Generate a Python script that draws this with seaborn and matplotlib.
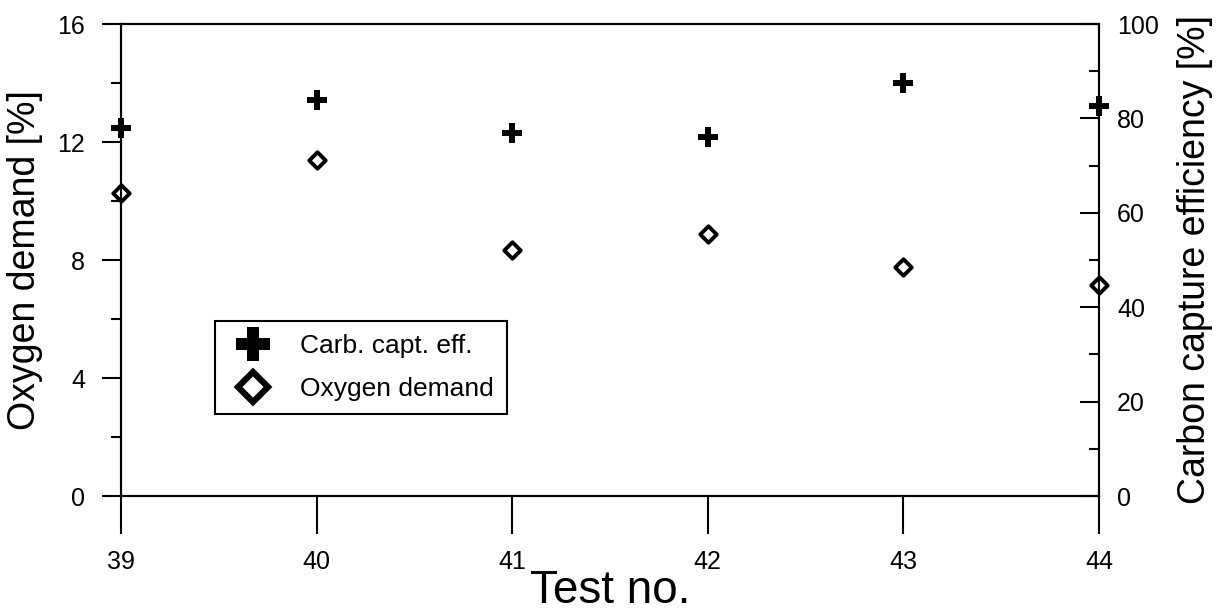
import matplotlib
matplotlib.use("Agg")
import matplotlib.pyplot as plt
import seaborn as sns
import numpy as np
from matplotlib.ticker import MultipleLocator
from matplotlib.lines import Line2D

# ---- data ----
tests = [39, 40, 41, 42, 43, 44]
oxygen_demand = [10.27, 11.39, 8.34, 8.88, 7.76, 7.15]
carb_capt_eff = [78.0, 83.9, 76.9, 76.1, 87.5, 82.6]
x_ticks = [39, 40, 41, 42, 43, 44]
left_ticks = [0, 4, 8, 12, 16]
right_ticks = [0, 20, 40, 60, 80, 100]

sns.set_theme(style="white")
plt.rcParams['font.family'] = ['Liberation Sans', 'DejaVu Sans']
for k in ['text.color', 'axes.labelcolor', 'xtick.color', 'ytick.color', 'axes.edgecolor']:
    plt.rcParams[k] = 'black'

fig = plt.figure(figsize=(12.22, 6.15), dpi=100)
ax = fig.add_axes([121/1222, 1 - 496/615, (1099-121)/1222, (496-24)/615])
ax2 = ax.twinx()

sns.scatterplot(x=tests, y=oxygen_demand, ax=ax, marker='D', s=70,
                facecolor='white', edgecolor='black', linewidth=2.8,
                clip_on=False, zorder=5)
sns.scatterplot(x=tests, y=carb_capt_eff, ax=ax2, marker='P', s=210,
                color='black', edgecolor='black', linewidth=0,
                clip_on=False, zorder=5)

ax.set_xlim(39, 44)
ax.set_ylim(0, 16)
ax2.set_ylim(0, 100)
ax.set_xticks(x_ticks)
ax.set_yticks(left_ticks)
ax2.set_yticks(right_ticks)
ax.yaxis.set_minor_locator(MultipleLocator(2))
ax2.yaxis.set_minor_locator(MultipleLocator(10))

for a in (ax, ax2):
    for s in a.spines.values():
        s.set_linewidth(1.5)
        s.set_color('black')
        s.set_visible(True)

ax.tick_params(axis='y', which='major', direction='out', length=14, width=1.5,
               labelsize=18, pad=12, left=True, right=False)
ax.tick_params(axis='y', which='minor', direction='out', length=7.5, width=1.5, left=True)
ax.tick_params(axis='x', which='major', direction='out', length=27, width=1.5,
               labelsize=18, pad=12, bottom=True, top=False)
ax2.tick_params(axis='y', which='major', direction='in', length=14, width=1.5,
                labelsize=18, pad=13, right=True, left=False)
ax2.tick_params(axis='y', which='minor', direction='in', length=7.5, width=1.5, right=True)

ax.set_xlabel('Test no.', fontsize=33, labelpad=-4)
ax.set_ylabel('Oxygen demand [%]', fontsize=27, labelpad=10)
ax2.set_ylabel('Carbon capture efficiency [%]', fontsize=27, labelpad=13)
ax.grid(False)
ax2.grid(False)

handles = [
    Line2D([], [], linestyle='none', marker='P', markersize=25, color='black',
           markeredgewidth=0),
    Line2D([], [], linestyle='none', marker='D', markersize=15, markerfacecolor='white',
           markeredgecolor='black', markeredgewidth=4.5),
]
leg = ax.legend(handles, ['Carb. capt. eff.', 'Oxygen demand'],
                loc='lower left', bbox_to_anchor=((215-121)/978, (496-414)/472),
                fontsize=19, frameon=True, fancybox=False, framealpha=1,
                edgecolor='black', borderpad=0.5, handletextpad=0.84,
                labelspacing=0.72, handlelength=1.88, borderaxespad=0)
leg.get_frame().set_linewidth(1.5)
leg.set_zorder(10)

fig.savefig('out.png', dpi=100)
